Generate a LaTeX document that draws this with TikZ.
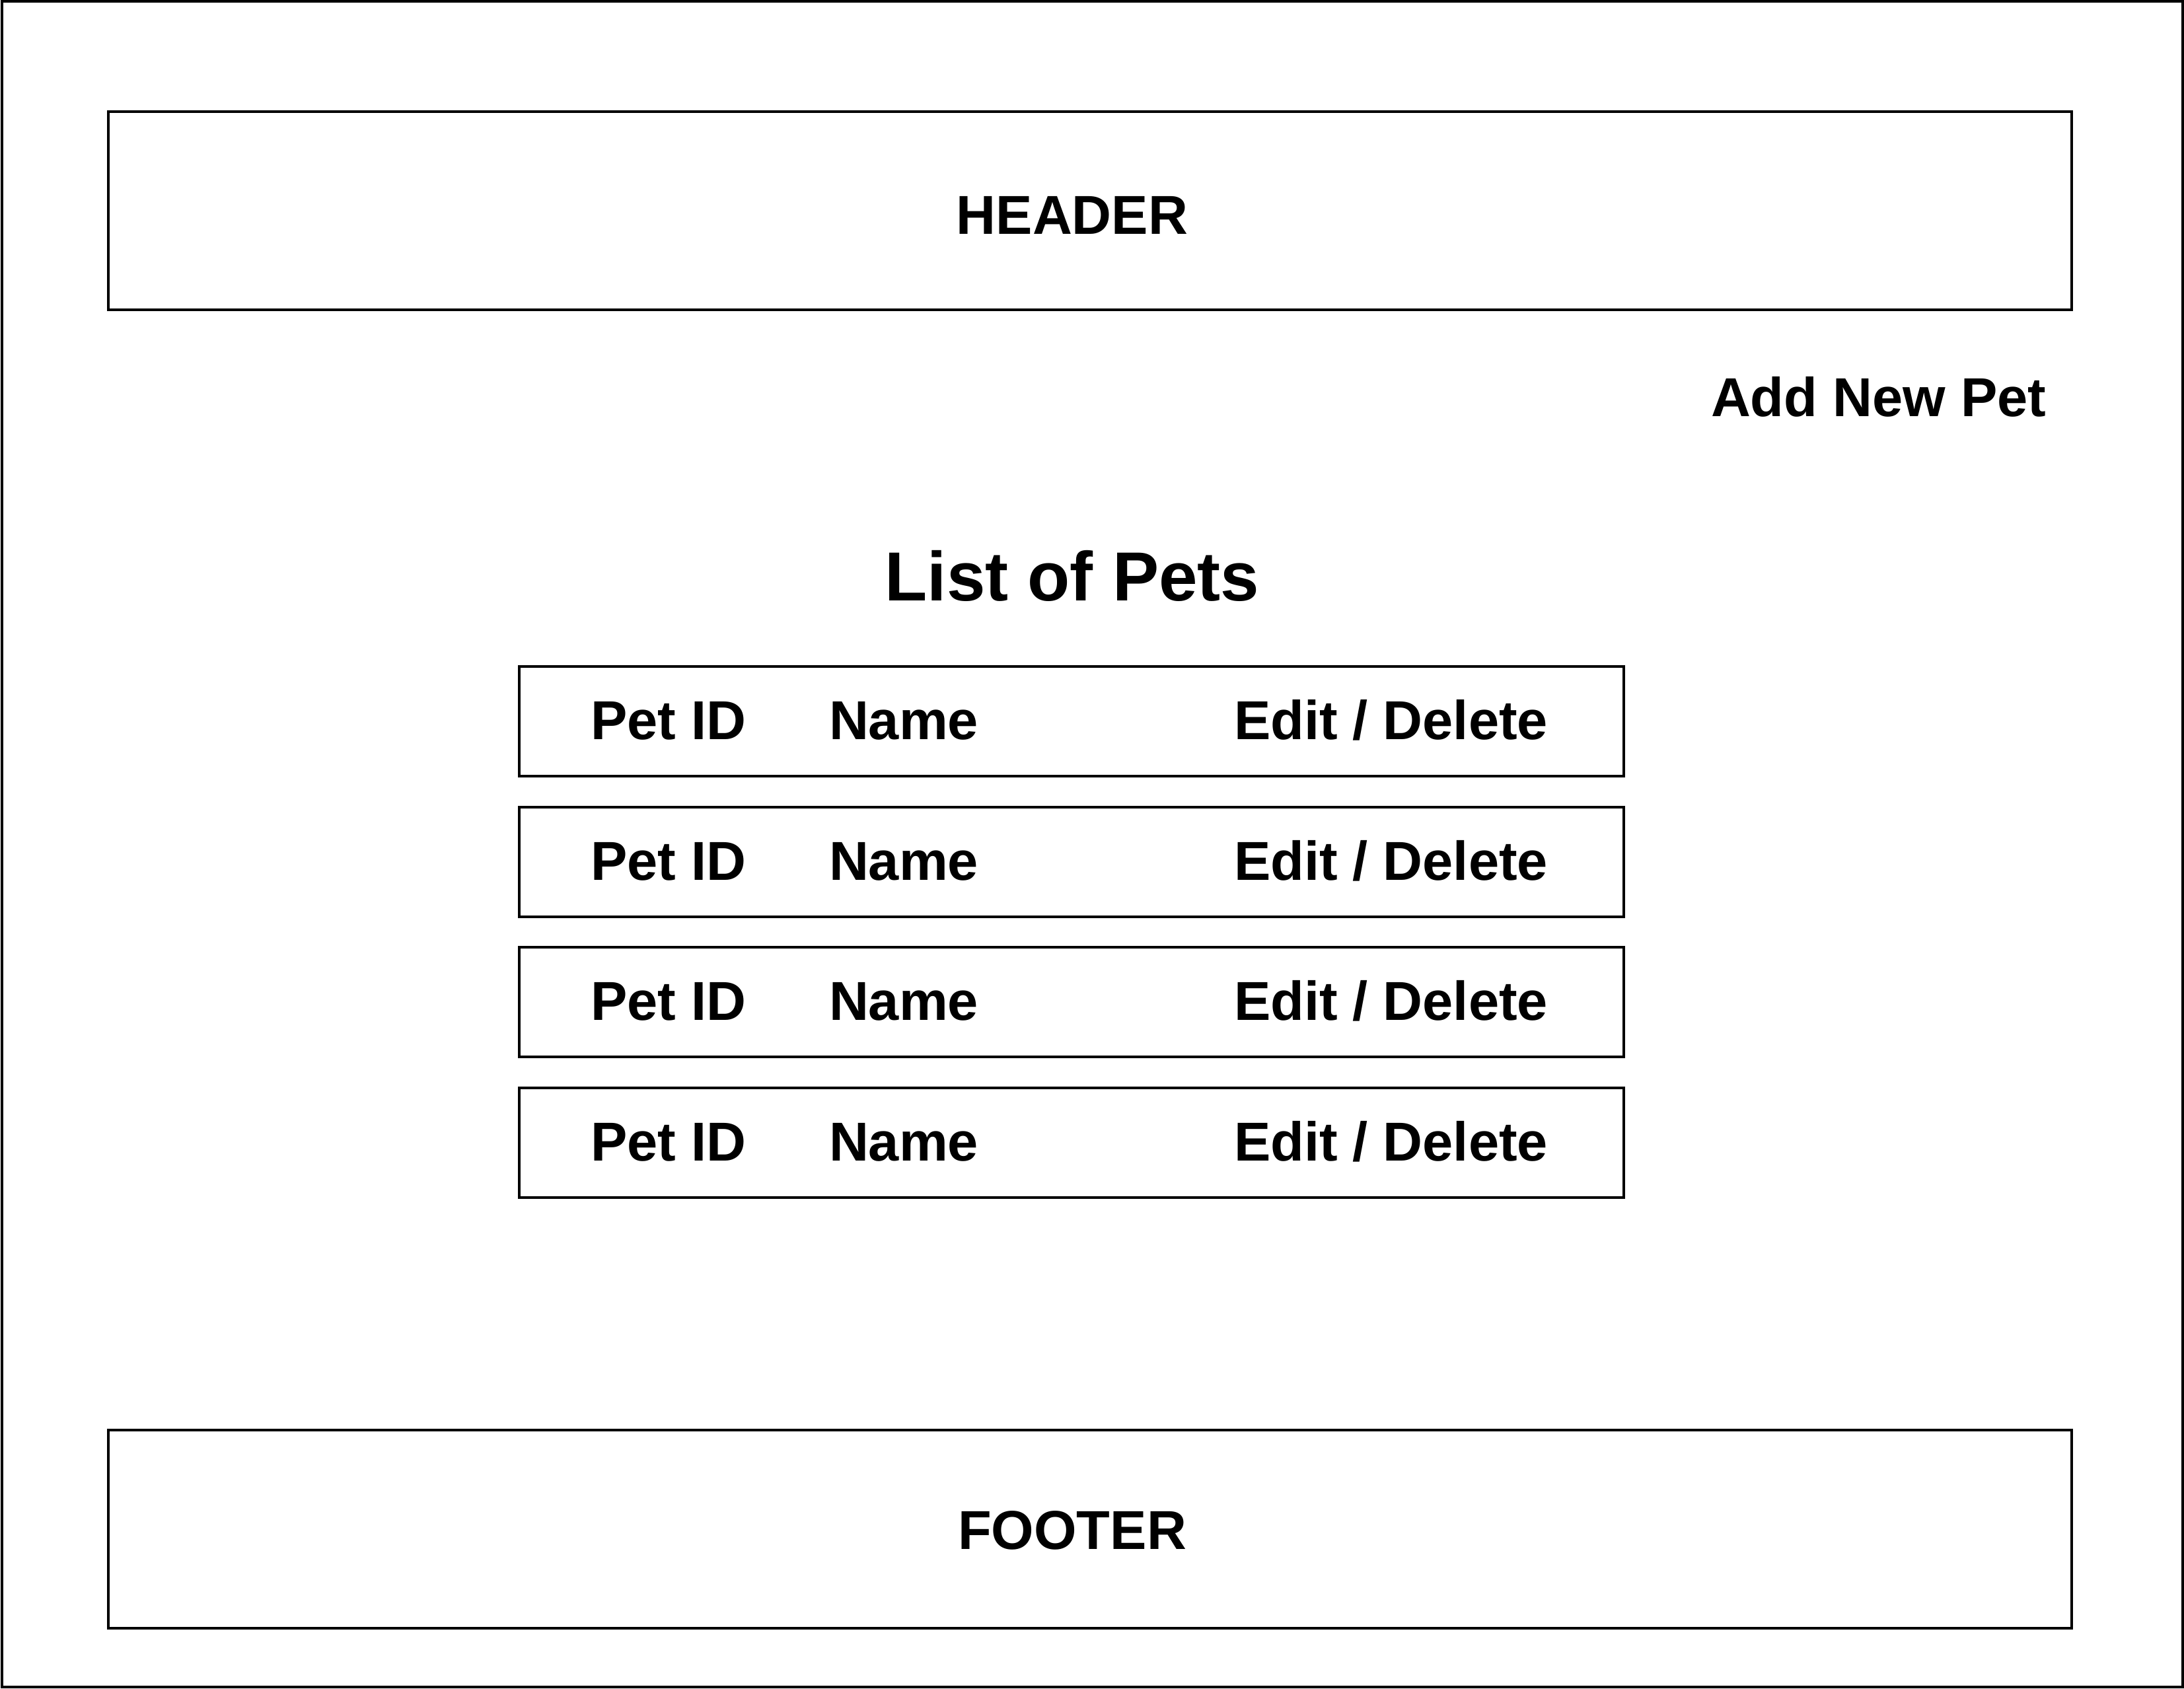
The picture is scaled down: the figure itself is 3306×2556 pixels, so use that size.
\documentclass[tikz,border=0pt]{standalone}
\usepackage{fontspec}
\setmainfont{Liberation Sans}
\begin{document}
\begin{tikzpicture}[x=0.01cm,y=-0.01cm,
  frame/.style={draw=black,line width=0.04cm,inner sep=0pt,outer sep=0pt},
  lbl/.style={inner sep=0pt,outer sep=0pt,font=\fontsize{23.6pt}{28pt}\selectfont\bfseries},
  title/.style={inner sep=0pt,outer sep=0pt,font=\fontsize{29.9pt}{34pt}\selectfont\bfseries},
  rowbox/.style={frame,minimum width=16.71cm,minimum height=1.66cm}]
\useasboundingbox (0,0) rectangle (3306,2556);
\fill[white] (0,0) rectangle (3306,2556);
\node[frame,minimum width=32.995cm,minimum height=25.50cm] (page) at (1653.25,1278) {};
\node[frame,minimum width=29.70cm,minimum height=3.00cm] (header) at (1650,319) {};
\node[frame,minimum width=29.70cm,minimum height=3.00cm] (footer) at (1650,2315) {};
\node[lbl,anchor=base] (htxt) at (1623,354) {HEADER};
\node[lbl,anchor=base] (ftxt) at (1623,2345) {FOOTER};
\node[lbl,anchor=base west] (add) at (2590,630) {Add New Pet};
\node[title,anchor=base] (list) at (1623,909) {List of Pets};
\foreach \i/\t in {1/1009,2/1222,3/1434,4/1647}{
  \node[rowbox] (row\i) at (1621.5,\t+83) {};
  \node[lbl,anchor=base west] (id\i) at (894,\t+110) {Pet ID};
  \node[lbl,anchor=base west] (nm\i) at (1255,\t+110) {Name};
  \node[lbl,anchor=base west] (ed\i) at (1868,\t+110) {Edit / Delete};
}
\end{tikzpicture}
\end{document}
